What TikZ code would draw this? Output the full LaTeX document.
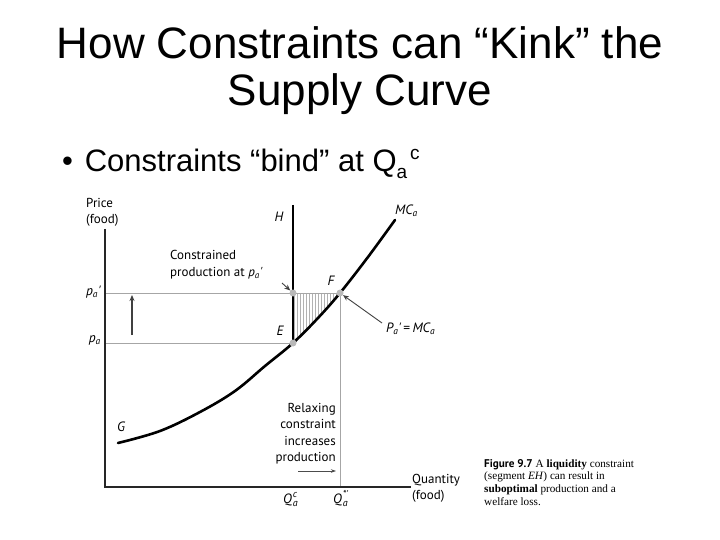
\documentclass[tikz,border=0pt]{standalone}
\usepackage{fontspec}
\setmainfont{Liberation Sans}
\newfontfamily\figfont{PT Sans}
\newfontfamily\capserif{Liberation Serif}
\usetikzlibrary{arrows.meta}
\newcommand{\subsup}[2]{\kern0.8pt\rlap{\raisebox{6pt}{\fontsize{10}{10}\selectfont #2}}\raisebox{-3pt}{\fontsize{10}{10}\selectfont #1}}
\tikzset{
  lbl/.style={font=\figfont\fontsize{13}{16.5}\selectfont, inner sep=0pt},
  ital/.style={font=\figfont\itshape\fontsize{13.5}{16}\selectfont, inner sep=0pt},
  guide/.style={draw=gray!70, line width=0.7pt},
  axis/.style={draw=black!85, line width=1.3pt},
  curve/.style={draw=black, line width=2.6pt},
  dot/.style={circle, fill=gray!55, minimum size=7pt, inner sep=0pt},
  pointer/.style={draw=black!75, line width=0.9pt, -{Stealth[length=6pt,width=5pt]}},
}
\begin{document}
\begin{tikzpicture}[x=1pt,y=-1pt]
\useasboundingbox (0,0) rectangle (720,540);
% title
\node[anchor=base, inner sep=0pt, font=\fontsize{44}{48}\selectfont] (t1) at (360,59) {How Constraints can “Kink” the};
\node[anchor=base, inner sep=0pt, font=\fontsize{44}{48}\selectfont] (t2) at (360,106) {Supply Curve};
\node[anchor=base west, inner sep=0pt, font=\fontsize{31}{36}\selectfont] (b1) at (62,172) {•\hspace{0.38em}Constraints “bind” at Q\raisebox{-6pt}{\fontsize{19}{22}\selectfont a}\raisebox{13pt}{\fontsize{19}{22}\selectfont \kern3pt c}};

% coordinates
\coordinate (O) at (105,487);
\coordinate (Ytop) at (105,229);
\coordinate (Xend) at (411,487);
\coordinate (E) at (293,343);
\coordinate (F) at (340,293);
\coordinate (K) at (293,293);
\coordinate (Htop) at (293,205);
\coordinate (Fb) at (340,487);
\coordinate (Pa1) at (105,293);
\coordinate (Pa) at (105,343);

% hatching
\begin{scope}
\clip (K) -- (F) -- plot[smooth] coordinates {(340,293) (318,318) (293,343)} -- cycle;
\foreach \x in {294,297,...,340} \draw[gray!60, line width=0.5pt] (\x,290) -- (\x,346);
\end{scope}

% guides
\draw[guide] (Pa1) -- (F);
\draw[guide] (Pa) -- (E);
\draw[guide] (F) -- (Fb);

% axes
\draw[axis] (Ytop) -- (O) -- (Xend);

% constraint segment
\draw[black, line width=2.2pt] (Htop) -- (E);

% supply curve
\draw[curve, line cap=round] plot[smooth, tension=0.6] coordinates {(118,443) (160,431) (200,412) (235,391) (265,366) (293,343) (318,318) (340,293) (368,257) (395,220)};

% dots
\node[dot] (dK) at (K) {};
\node[dot] (dF) at (F) {};
\node[dot] (dE) at (E) {};

% axis labels
\node[lbl, align=left, anchor=north west] (price) at (86,198) {Price\\(food)};
\node[lbl, align=left, anchor=north west] (qty) at (412,474) {Quantity\\(food)};
\node[ital, anchor=east] (lpa1) at (101,292) {p\textsubscript{a}\textquotesingle};
\node[ital, anchor=east] (lpa) at (101,340) {p\textsubscript{a}};
\node[ital] (lH) at (279,217) {H};
\node[ital] (lE) at (280,331) {E};
\node[ital] (lF) at (331,281) {F};
\node[ital] (lG) at (121,427) {G};
\node[ital, anchor=west] (lMC) at (395,211) {MC\textsubscript{a}};
\node[ital, anchor=base west] (lQc) at (283,503) {Q\subsup{a}{c}};
\node[ital, anchor=base west] (lQs) at (333,503) {Q\subsup{a}{*\textquotesingle}};

% upward arrow
\coordinate (ua0) at (132,335);
\coordinate (ua1) at (132,295);
\draw[draw=black!75, line width=1.2pt, -{Stealth[length=6pt,width=5pt]}] (ua0) -- (ua1);

% constrained production label
\node[lbl, align=left, anchor=north west] (cp) at (170,250.5) {Constrained\\production at \textit{p\textsubscript{a}\textquotesingle}};
\coordinate (cpa) at (282,283);
\draw[pointer] (cpa) -- (dK);

% Pa' = MCa label
\node[ital, anchor=west] (eqlab) at (386,329) {P\textsubscript{a}\textquotesingle\,{\upshape =}\,MC\textsubscript{a}};
\coordinate (eqa) at (382,323);
\draw[pointer] (eqa) -- (dF);

% relaxing constraint
\node[lbl, align=right, anchor=north east] (relax) at (336,403) {Relaxing\\constraint\\increases\\production};
\coordinate (ra0) at (298,471);
\coordinate (ra1) at (336,471);
\draw[draw=black!70, line width=0.7pt, -{Stealth[length=5pt,width=3.5pt]}] (ra0) -- (ra1);

% caption
\node[anchor=north west, align=left, inner sep=0pt, font=\capserif\fontsize{11.2}{12.6}\selectfont] (cap) at (484,459)
 {{\figfont\bfseries Figure 9.7} A \textbf{liquidity} constraint\\(segment \textit{EH}) can result in\\\textbf{suboptimal} production and a\\welfare loss.};
\end{tikzpicture}
\end{document}
